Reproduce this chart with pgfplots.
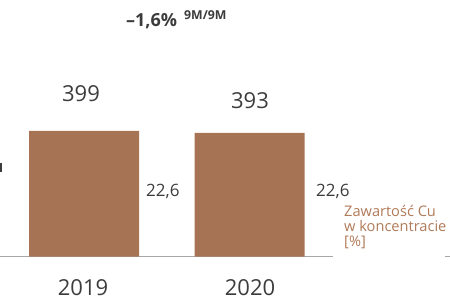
\documentclass[border=0pt]{standalone}
\usepackage{pgfplots}
\pgfplotsset{compat=1.18}
\usepackage{fontspec}
\setmainfont{Open Sans}
\definecolor{barbrown}{HTML}{A67355}
\definecolor{txtbrown}{HTML}{B07A58}
\definecolor{txtgray}{HTML}{3C3C3C}
\definecolor{axgray}{HTML}{A8A8A8}
\begin{document}
\begin{tikzpicture}[x=1bp,y=1bp]
\useasboundingbox (0,0) rectangle (450,297);
\begin{axis}[
  at={(0bp,40.5bp)}, anchor=south west,
  scale only axis, width=333bp, height=125.5bp,
  xmin=-0.5076, xmax=1.5045, ymin=0, ymax=399,
  axis x line*=bottom, axis y line=none,
  axis line style={axgray, line width=1.5bp},
  xtick=\empty, ytick=\empty,
  clip=false,
]
\addplot[ybar, bar width=110bp, fill=barbrown, draw=none] coordinates {(0,399) (1,393)};
\end{axis}
\draw[axgray, line width=1.5bp] (445,40.5) -- (450,40.5);
\draw[txtgray, line width=1.2bp] (1,125) -- (1,134);
\node[anchor=base west, inner sep=0, font=\bfseries\fontsize{18bp}{20bp}\selectfont, text=txtgray] at (126,271) {–1,6\%};
\node[anchor=base west, inner sep=0, font=\bfseries\fontsize{12.3bp}{14bp}\selectfont, text=txtgray] at (184,277.5) {9M/9M};
\node[anchor=base, inner sep=0, font=\fontsize{22bp}{26bp}\selectfont, text=txtgray] at (81,195.3) {399};
\node[anchor=base, inner sep=0, font=\fontsize{22bp}{26bp}\selectfont, text=txtgray] at (250,188.7) {393};
\node[anchor=base, inner sep=0, font=\fontsize{22bp}{26bp}\selectfont, text=txtgray] at (83,2) {2019};
\node[anchor=base, inner sep=0, font=\fontsize{22bp}{26bp}\selectfont, text=txtgray] at (250,2) {2020};
\node[anchor=base west, inner sep=0, font=\fontsize{17bp}{20bp}\selectfont, text=txtgray] at (146,100.3) {22,6};
\node[anchor=base west, inner sep=0, font=\fontsize{17bp}{20bp}\selectfont, text=txtgray] at (316,100.3) {22,6};
\node[anchor=base west, inner sep=0, font=\fontsize{14.6bp}{15bp}\selectfont, text=txtbrown] at (344,80.3) {Zawartość Cu};
\node[anchor=base west, inner sep=0, font=\fontsize{14.6bp}{15bp}\selectfont, text=txtbrown] at (344,65.3) {w koncentracie};
\node[anchor=base west, inner sep=0, font=\fontsize{14.6bp}{15bp}\selectfont, text=txtbrown] at (344,50.3) {[\%]};
\end{tikzpicture}
\end{document}
